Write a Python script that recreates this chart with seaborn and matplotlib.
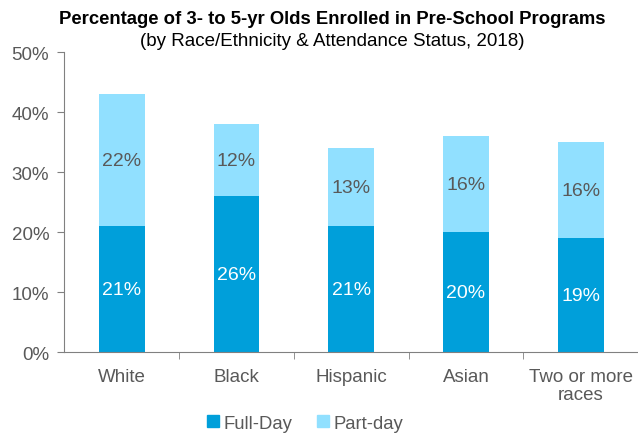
import seaborn as sns
import matplotlib.pyplot as plt
import pandas as pd
from matplotlib.patches import Patch

groups = ["White", "Black", "Hispanic", "Asian", "Two or more\nraces"]
full_day = [21, 26, 21, 20, 19]
part_day = [22, 12, 13, 16, 16]

full_color = "#009FDA"
part_color = "#91E0FF"
text_gray = "#595959"

sns.set_style("white")
plt.rcParams['font.family'] = ['Liberation Sans', 'DejaVu Sans']

df = pd.DataFrame({"group": groups, "full": full_day, "part": part_day})
df["total"] = df["full"] + df["part"]

fig = plt.figure(figsize=(6.38, 4.35), dpi=100)
ax = fig.add_axes([0.101, 0.188, 0.899, 0.69])

# stacked bars: totals first, full-day drawn over them
sns.barplot(data=df, x="group", y="total", color=part_color, width=0.4,
            saturation=1, linewidth=0, ax=ax)
sns.barplot(data=df, x="group", y="full", color=full_color, width=0.4,
            saturation=1, linewidth=0, ax=ax)

for i, (f, p) in enumerate(zip(full_day, part_day)):
    ax.text(i, f / 2, f"{f}%", ha="center", va="center", color="white", fontsize=14)
    ax.text(i, f + p / 2, f"{p}%", ha="center", va="center", color=text_gray, fontsize=14)

ax.set_ylim(0, 50)
ax.set_yticks(range(0, 51, 10))
ax.set_yticklabels([f"{v}%" for v in range(0, 51, 10)])
ax.set_xlim(-0.5, 4.5)
ax.set_xlabel("")
ax.set_ylabel("")

for s in ["top", "right"]:
    ax.spines[s].set_visible(False)
for s in ["left", "bottom"]:
    ax.spines[s].set_color("#808080")

ax.tick_params(axis="y", left=True, length=5, color="#808080", labelsize=13.5,
               labelcolor=text_gray, pad=6)
ax.tick_params(axis="x", bottom=False, labelsize=13.5, labelcolor=text_gray, pad=8)
for lbl in ax.get_xticklabels():
    lbl.set_linespacing(1.1)
ax.set_xticks([0.5, 1.5, 2.5, 3.5], minor=True)
ax.tick_params(axis="x", which="minor", bottom=True, length=5, color="#808080")

fig.text(0.52, 0.955, "Percentage of 3- to 5-yr Olds Enrolled in Pre-School Programs",
         ha="center", va="center", fontsize=13.3, fontweight="bold", color="black")
fig.text(0.52, 0.905, "(by Race/Ethnicity & Attendance Status, 2018)",
         ha="center", va="center", fontsize=13.5, color="black")

handles = [Patch(color=full_color, label="Full-Day"), Patch(color=part_color, label="Part-day")]
fig.legend(handles=handles, loc="center", bbox_to_anchor=(0.478, 0.025), ncol=2,
           frameon=False, fontsize=13.3, handlelength=0.65, handleheight=0.65,
           handletextpad=0.25, columnspacing=1.3, labelcolor=text_gray)

fig.savefig("out.png", dpi=100)
